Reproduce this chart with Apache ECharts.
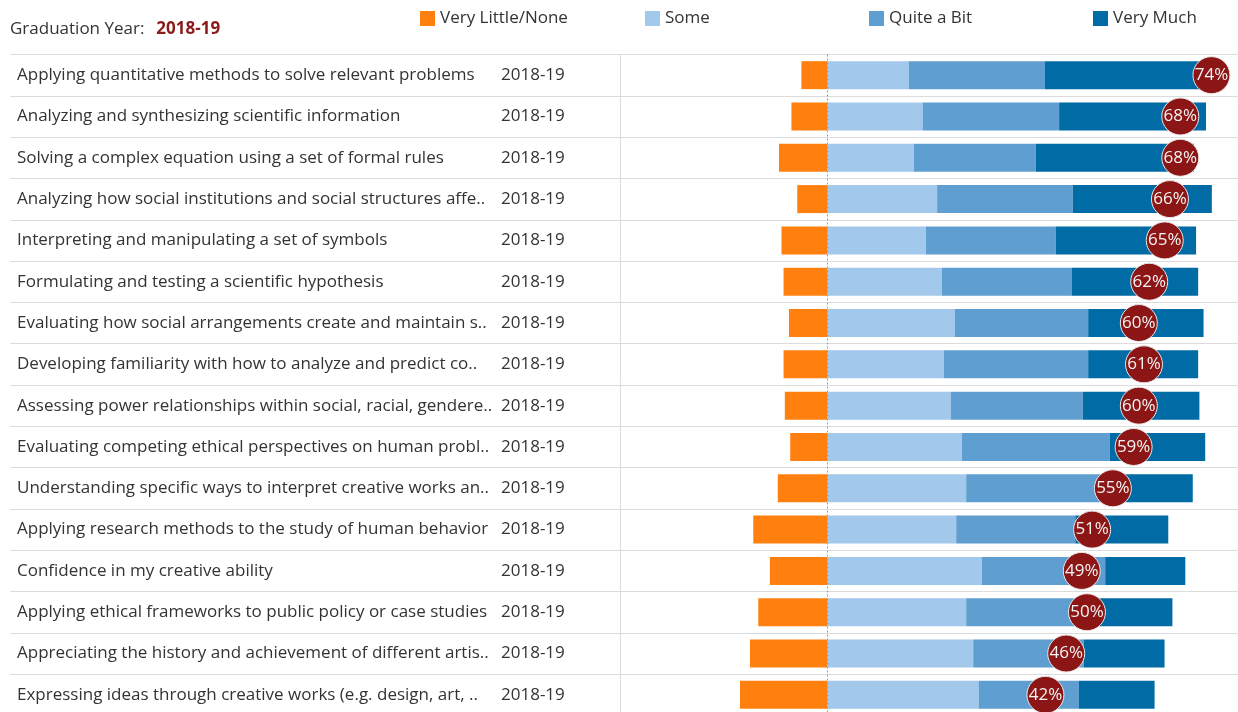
<!DOCTYPE html>
<html>
<head>
<meta charset="utf-8">
<script src="https://cdn.jsdelivr.net/npm/echarts@6/dist/echarts.min.js"></script>
<style>
  html, body { margin: 0; padding: 0; background: #fff; }
  #chart { width: 1238px; height: 712px; }
</style>
</head>
<body>
<div id="chart"></div>
<script>
const categories = [
  'Applying quantitative methods to solve relevant problems',
  'Analyzing and synthesizing scientific information',
  'Solving a complex equation using a set of formal rules',
  'Analyzing how social institutions and social structures affe..',
  'Interpreting and manipulating a set of symbols',
  'Formulating and testing a scientific hypothesis',
  'Evaluating how social arrangements create and maintain s..',
  'Developing familiarity with how to analyze and predict co..',
  'Assessing power relationships within social, racial, gendere..',
  'Evaluating competing ethical perspectives on human probl..',
  'Understanding specific ways to interpret creative works an..',
  'Applying research methods to the study of human behavior',
  'Confidence in my creative ability',
  'Applying ethical frameworks to public policy or case studies',
  'Appreciating the history and achievement of different artis..',
  'Expressing ideas through creative works (e.g. design, art, ..'
];
const years = ['2018-19','2018-19','2018-19','2018-19','2018-19','2018-19','2018-19','2018-19',
               '2018-19','2018-19','2018-19','2018-19','2018-19','2018-19','2018-19','2018-19'];
const veryLittle = [6.3, 8.7, 11.7, 7.3, 11.1, 10.6, 9.3, 10.6, 10.3, 9.0, 12.0, 17.9, 13.9, 16.7, 18.7, 21.1];
const some       = [19.6, 22.9, 20.8, 26.4, 23.7, 27.5, 30.7, 28.0, 29.7, 32.4, 33.4, 31.0, 37.2, 33.4, 35.1, 36.4];
const quiteABit  = [32.8, 32.9, 29.4, 32.7, 31.3, 31.3, 32.1, 34.8, 31.8, 35.6, 34.6, 28.7, 29.7, 29.8, 26.6, 24.1];
const veryMuch   = [41.3, 35.4, 38.1, 33.5, 33.8, 30.5, 27.8, 26.5, 28.1, 23.0, 20.0, 22.4, 19.3, 19.9, 19.5, 18.3];
const topTwoPct  = [74, 68, 68, 66, 65, 62, 60, 61, 60, 59, 55, 51, 49, 50, 46, 42];
const seriesNames = ['Very Little/None', 'Some', 'Quite a Bit', 'Very Much'];
const colors = ['#FF800E', '#A2C8EC', '#5F9ED1', '#006BA4'];

const FONT = 'Open Sans';
const FS = 17;
const chart = echarts.init(document.getElementById('chart'));

function legendFor(i, left) {
  return {
    data: [seriesNames[i]], left: left, top: 10, icon: 'rect',
    itemWidth: 15, itemHeight: 15, itemGap: 0, padding: 0,
    textStyle: { color: '#333', fontSize: FS, fontFamily: FONT },
    selectedMode: false
  };
}

const barBase = { type: 'bar', stack: 'total', barWidth: 28, xAxisIndex: 0, yAxisIndex: 0, emphasis: { disabled: true } };

chart.setOption({
  animation: false,
  textStyle: { fontFamily: FONT },
  title: {
    left: 10, top: 21, padding: 0,
    text: '{a|Graduation Year:}{b|2018-19}',
    textStyle: {
      fontWeight: 'normal',
      rich: {
        a: { fontSize: FS, color: '#333', fontFamily: FONT, fontWeight: 'normal' },
        b: { fontSize: FS, color: '#8B1A1A', fontWeight: 'bold', fontFamily: FONT, padding: [0, 0, 0, 12] }
      }
    }
  },
  legend: [legendFor(0, 420), legendFor(1, 645), legendFor(2, 869), legendFor(3, 1093)],
  grid: { left: 10, right: 0, top: 54.5, height: 661, outerBoundsMode: 'none', containLabel: false },
  xAxis: [
    { type: 'value', min: -197, max: 98.9, show: false },
    { type: 'value', min: -157.6, max: 79.12, show: false }
  ],
  yAxis: [
    {
      type: 'category', data: categories, inverse: true,
      axisLine: { show: false }, axisTick: { show: false },
      splitLine: { show: true, lineStyle: { color: '#dcdcdc', width: 1 } },
      axisLabel: { inside: true, margin: 7, color: '#333', fontSize: FS, fontFamily: FONT, align: 'left' }
    },
    {
      type: 'category', data: years, inverse: true, position: 'left',
      axisLine: { show: false }, axisTick: { show: false }, splitLine: { show: false },
      axisLabel: { inside: true, margin: 491, color: '#333', fontSize: FS, fontFamily: FONT, align: 'left' }
    }
  ],
  series: [
    Object.assign({}, barBase, {
      name: seriesNames[0], data: veryLittle.map(v => -v), itemStyle: { color: colors[0] },
      markLine: {
        silent: true, symbol: 'none', label: { show: false },
        data: [
          { xAxis: 0, lineStyle: { color: '#9a9a9a', type: [2, 2], width: 1 } },
          { xAxis: -50, lineStyle: { color: '#dcdcdc', type: 'solid', width: 1 } }
        ]
      }
    }),
    Object.assign({}, barBase, { name: seriesNames[1], data: some, itemStyle: { color: colors[1] } }),
    Object.assign({}, barBase, { name: seriesNames[2], data: quiteABit, itemStyle: { color: colors[2] } }),
    Object.assign({}, barBase, { name: seriesNames[3], data: veryMuch, itemStyle: { color: colors[3] } }),
    {
      type: 'scatter', xAxisIndex: 1, yAxisIndex: 0, symbolSize: 37, z: 5,
      data: topTwoPct.map((v, i) => [v, i]),
      itemStyle: { color: '#8C1515', borderColor: '#e8e8e8', borderWidth: 1, opacity: 1 },
      label: {
        show: true, position: 'inside', color: '#f4f4f4', fontSize: 17, fontFamily: FONT,
        formatter: p => p.value[0] + '%'
      },
      emphasis: { disabled: true }
    }
  ]
});
</script>
</body>
</html>
